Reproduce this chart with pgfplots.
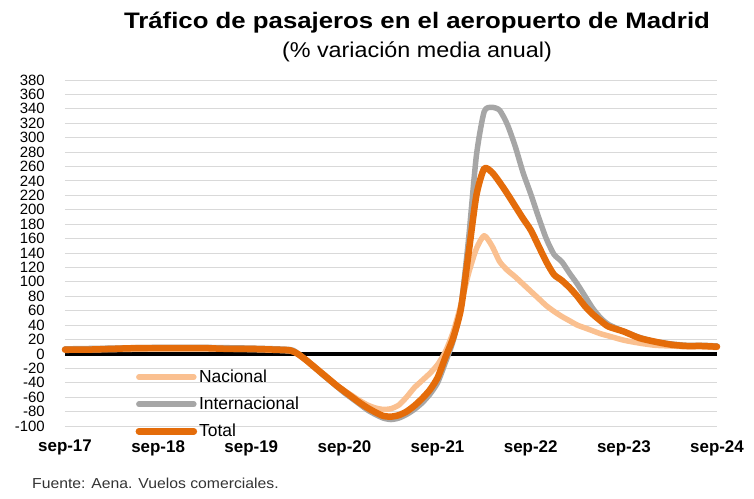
\documentclass[border=0pt]{standalone}
\usepackage{fontspec}
\setmainfont{Liberation Sans}
\usepackage{graphicx}
\usepackage{pgfplots}
\pgfplotsset{compat=1.18}
\definecolor{cTot}{RGB}{228,108,10}
\definecolor{cNac}{RGB}{250,192,144}
\definecolor{cInt}{RGB}{166,166,166}
\definecolor{cGrid}{RGB}{217,217,217}
\begin{document}
\begin{tikzpicture}
\useasboundingbox (-65bp,-73bp) rectangle (689bp,426bp);
\begin{axis}[at={(0bp,0bp)}, anchor=south west, scale only axis,
 width=652bp, height=346bp,
 xmin=0, xmax=84, ymin=-100, ymax=380, clip=false,
 axis line style={draw=none}, major tick length=0pt,
 xtick={0,12,...,84},
 xticklabels={sep-17,sep-18,sep-19,sep-20,sep-21,sep-22,sep-23,sep-24},
 ytick={-100,-80,...,380},
 ymajorgrids, grid style={cGrid, line width=1bp},
 extra y ticks={0}, extra y tick labels={},
 extra y tick style={grid style={black, line width=3.5bp}},
 /pgf/number format/assume math mode=true,
 yticklabel style={font=\fontsize{15}{15}\selectfont, inner sep=0pt, anchor=east, xshift=-20bp},
 xticklabel style={font=\bfseries\fontsize{17}{17}\selectfont, inner sep=0pt, anchor=north, yshift=-14bp},
 legend style={at={(0.108,0.168)}, anchor=north west, draw=none, fill=none,
   font=\fontsize{17.5}{17.5}\selectfont, row sep=9bp, inner sep=0pt},
 legend cell align=left,
 legend image code/.code={\draw[#1] (0bp,0bp) -- (55bp,0bp);},
 every axis plot/.append style={line join=round, line cap=round, smooth, tension=0.4},
]
\addplot[cNac, line width=5.5bp] coordinates {
(0,5)(6,6)(12,7)(18,7)(24,6)(29,4)(30,0)(31,-8)(32,-16)(33,-25)(34,-34)(35,-43)(36,-51)(37,-58)(38,-65)(39,-71)(40,-75)(41,-77)(42,-76)(43,-71)(44,-60)(45,-47)(46,-37)(47,-27)(48,-15)(49,3)(50,30)(51,68)(52,112)(53,146)(54,164)(55,150)(56,128)(57,116)(58,107)(59,97)(60,87)(61,77)(62,67)(63,59)(64,52)(65,46)(66,40)(67,36)(68,32)(69,28)(70,25)(72,19)(74,15)(76,12)(78,11)(80,10)(82,10)(84,9)};
\addlegendentry{Nacional}
\addplot[cInt, line width=5.5bp] coordinates {
(0,7)(6,8)(12,9)(18,9)(24,8)(29,6)(30,0)(31,-8)(32,-17)(33,-27)(34,-36)(35,-45)(36,-54)(37,-62)(38,-70)(39,-78)(40,-84)(41,-89)(42,-91)(43,-89)(44,-84)(45,-77)(46,-68)(47,-56)(48,-40)(49,-12)(50,18)(51,65)(52,160)(53,275)(54,336)(55,342)(56,338)(57,318)(58,288)(59,252)(60,222)(61,190)(62,160)(63,138)(64,128)(65,112)(66,97)(67,80)(68,63)(69,50)(70,41)(72,31)(74,23)(76,17)(78,14)(80,12)(82,12)(84,11)};
\addlegendentry{Internacional}
\addplot[cTot, line width=6.5bp] coordinates {
(0,6)(3,6)(6,7)(9,8)(12,8)(15,8)(18,8)(21,7)(24,7)(27,6)(29,5)(30,0)(31,-8)(32,-17)(33,-26)(34,-35)(35,-44)(36,-52)(37,-60)(38,-68)(39,-75)(40,-81)(41,-86)(42,-87)(43,-85)(44,-80)(45,-72)(46,-62)(47,-50)(48,-33)(49,-5)(50,22)(51,62)(52,140)(53,220)(54,257)(55,252)(56,238)(57,222)(58,205)(59,188)(60,172)(61,150)(62,128)(63,110)(64,102)(65,92)(66,80)(67,66)(68,55)(69,46)(70,38)(72,31)(74,22)(76,17)(78,13)(80,11)(82,11)(84,10)};
\addlegendentry{Total}
\end{axis}
\node[anchor=base, font=\bfseries\fontsize{22.5}{22.5}\selectfont] at (352bp,397bp) {\scalebox{1.15}[1]{Tráfico de pasajeros en el aeropuerto de Madrid}};
\node[anchor=base, font=\fontsize{21.5}{21.5}\selectfont] at (352bp,368bp) {\scalebox{1.09}[1]{(\% variación media anual)}};
\node[anchor=base west, inner sep=0pt, text=black!80, font=\fontsize{14.5}{14.5}\selectfont] at (-33bp,-62bp) {\scalebox{1.09}[1]{Fuente: Aena. Vuelos comerciales.}};
\end{tikzpicture}
\end{document}
